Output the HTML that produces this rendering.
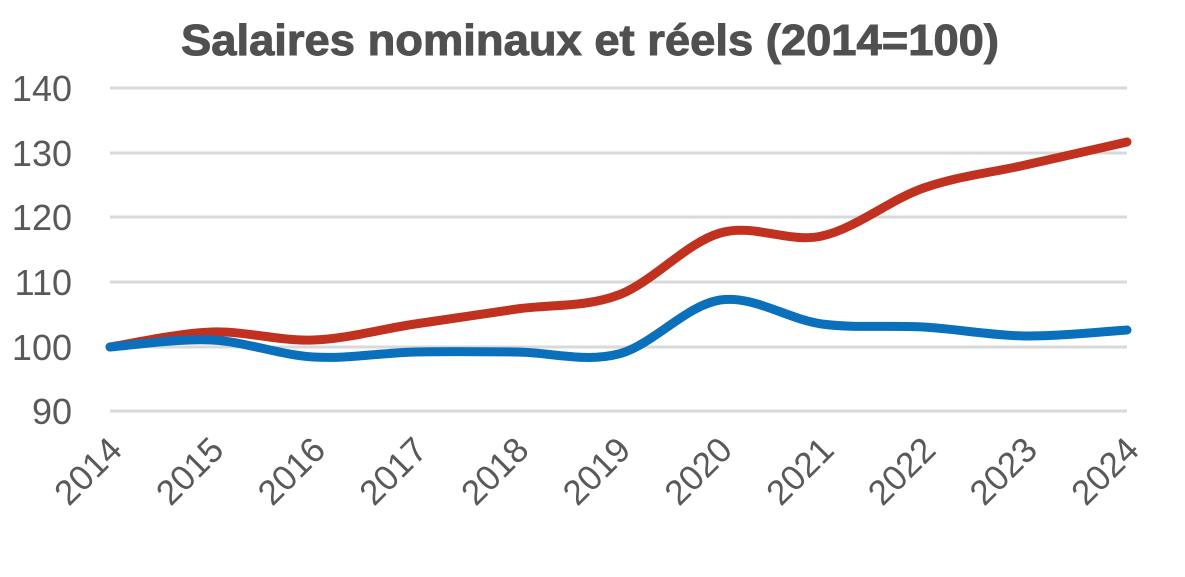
<!DOCTYPE html>
<html><head><meta charset="utf-8"><style>
body{margin:0;background:#fff;}
svg{display:block}
text{font-family:"Liberation Sans",sans-serif;fill:#595959}
</style></head><body>
<svg id="s" width="1185" height="577" viewBox="0 0 1185 577">
<text x="590" y="55" text-anchor="middle" font-size="44" font-weight="bold" stroke="#505050" stroke-width="1" style="fill:#505050" textLength="818" lengthAdjust="spacingAndGlyphs">Salaires nominaux et réels (2014=100)</text>
<g stroke="#d9d9d9" stroke-width="3">
<line x1="110" x2="1127" y1="88" y2="88"/><line x1="110" x2="1127" y1="153" y2="153"/>
<line x1="110" x2="1127" y1="217" y2="217"/><line x1="110" x2="1127" y1="282" y2="282"/>
<line x1="110" x2="1127" y1="347" y2="347"/><line x1="110" x2="1127" y1="411" y2="411"/>
</g>
<g font-size="36" text-anchor="end">
<text x="72" y="101">140</text><text x="72" y="166">130</text><text x="72" y="230">120</text>
<text x="72" y="295">110</text><text x="72" y="360">100</text><text x="72" y="424">90</text>
</g>
<g id="xl" font-size="35" text-anchor="end"></g>
<path id="r" fill="none" stroke="#c0311f" stroke-width="9" stroke-linecap="round"/>
<path id="b" fill="none" stroke="#0b70bb" stroke-width="9" stroke-linecap="round"/>
</svg>
<script>
var xs=[];for(var i=0;i<11;i++)xs.push(110+i*101.7);
function path(ys){var p=xs.map(function(x,i){return[x,ys[i]]});var d="M"+p[0][0]+","+p[0][1];
for(var i=0;i<p.length-1;i++){var p0=p[i-1]||p[i],p1=p[i],p2=p[i+1],p3=p[i+2]||p2;
d+=" C"+(p1[0]+(p2[0]-p0[0])/6)+","+(p1[1]+(p2[1]-p0[1])/6)+" "+(p2[0]-(p3[0]-p1[0])/6)+","+(p2[1]-(p3[1]-p1[1])/6)+" "+p2[0]+","+p2[1];}return d;}
document.getElementById("r").setAttribute("d",path([347,332,340,324,309,295,233,236,188,165,142]));
document.getElementById("b").setAttribute("d",path([347,340,357,352,352,354,300,324,327,336,330]));
var g=document.getElementById("xl"),h="";
for(var i=0;i<11;i++){var x=xs[i]+14,y=452;h+='<text transform="translate('+x+','+y+') rotate(-45)">'+(2014+i)+'</text>';}
g.innerHTML=h;
</script>
</body></html>
